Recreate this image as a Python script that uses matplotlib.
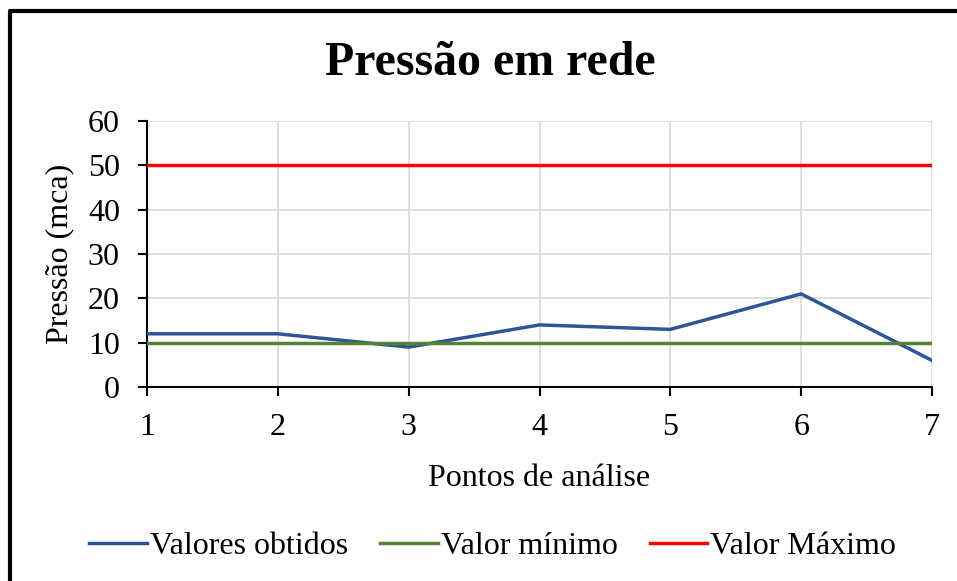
import matplotlib
matplotlib.use("Agg")
import matplotlib.pyplot as plt
from matplotlib.lines import Line2D

pontos = [1, 2, 3, 4, 5, 6, 7]
valores_obtidos = [12, 12, 9, 14, 13, 21, 6]
valor_minimo = [10, 10, 10, 10, 10, 10, 10]
valor_maximo = [50, 50, 50, 50, 50, 50, 50]
series_labels = ["Valores obtidos", "Valor mínimo", "Valor Máximo"]

plt.rcParams['font.family'] = ['Liberation Serif', 'DejaVu Serif']

fig = plt.figure(figsize=(9.57, 5.81), dpi=100)
ax = fig.add_axes([147/957, 1 - 387/581, (932-147)/957, (387-121)/581])

ax.plot(pontos, valores_obtidos, color='#2F5597', lw=2.5, label=series_labels[0], zorder=3)
ax.plot(pontos, valor_minimo, color='#548235', lw=2.5, label=series_labels[1], zorder=3)
ax.plot(pontos, valor_maximo, color='#FF0000', lw=2.5, label=series_labels[2], zorder=3)

ax.set_xlim(1, 7)
ax.set_ylim(0, 60)
ax.set_xticks(pontos)
ax.set_yticks(range(0, 61, 10))
ax.grid(True, color='#D9D9D9', lw=1.2, zorder=0)
for s in ['top', 'right']:
    ax.spines[s].set_visible(False)
for s in ['left', 'bottom']:
    ax.spines[s].set_linewidth(1.5)
    ax.spines[s].set_color('black')
ax.tick_params(axis='both', labelsize=23, length=6.5, width=1.5, direction='out')
ax.tick_params(axis='x', pad=12.5)
ax.tick_params(axis='y', pad=13)
ax.set_xlabel("Pontos de análise", fontsize=23, labelpad=15.5)
ax.set_ylabel("Pressão (mca)", fontsize=23, labelpad=10)

fig.text(0.512, 1 - 75/581, "Pressão em rede", fontsize=34.5, fontweight='bold',
         ha='center', va='baseline')

fig.legend(loc='center', bbox_to_anchor=(0.515, 1 - 546/581), ncol=3, frameon=False,
           fontsize=23, handlelength=1.8, columnspacing=1.0, handletextpad=0.1)

border = Line2D([10/957, 10/957, 1.0], [0, 1 - 11/581, 1 - 11/581], transform=fig.transFigure,
                color='black', lw=3)
fig.add_artist(border)

fig.savefig("out.png", dpi=100)
